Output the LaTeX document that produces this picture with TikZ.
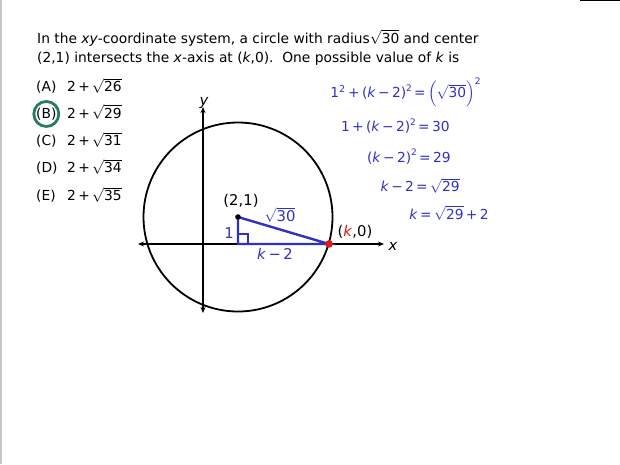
\documentclass[tikz,border=0pt]{standalone}
\usepackage{exscale}
\usepackage{fontspec}
\setmainfont{DejaVu Sans}
\usetikzlibrary{arrows.meta}
\definecolor{eqblue}{RGB}{48,48,200}
\definecolor{ansgreen}{RGB}{40,125,95}
\definecolor{ptred}{RGB}{228,25,25}
\newcommand\rt[1]{$\sqrt{\hbox{#1}}$}
\newcommand\vk{\textit{k}}
\newcommand\mn{\,−\,}
\newcommand\sqr{\raisebox{0.45em}{\fontsize{9}{9}\selectfont 2}}
\tikzset{
  txt/.style={anchor=base west, inner sep=0pt},
  eq/.style={anchor=base, inner sep=0pt, text=eqblue},
  lbl/.style={inner sep=0pt, font=\fontsize{14.8}{17}\selectfont},
  axis/.style={line width=1.3pt, {Stealth[length=6pt,width=5pt]}-{Stealth[length=6pt,width=5pt]}},
  tri/.style={eqblue, line width=2.4pt, line join=miter},
}
\begin{document}
\begin{tikzpicture}[x=1pt,y=-1pt, font=\fontsize{13.8}{16}\selectfont]
\useasboundingbox (0,0) rectangle (620,464);
\fill[gray!45] (0,0) rectangle (2,464);
\draw[line width=1.5pt] (580,0.5) -- (620,0.5);

% question
\node[txt] (q1) at (37,43) {In the \textit{xy}-coordinate system, a circle with radius\rt{30} and center};
\node[txt] (q2) at (37,62) {(2,1) intersects the \textit{x}-axis at (\vk,0).\ \ One possible value of \vk\ is};

% answers
\foreach \L/\n/\y in {A/26/91.5, B/29/118, C/31/145.5, D/34/172.5, E/35/200.5}{
  \node[txt] (lab\L) at (36,\y) {(\L)};
  \node[txt] (val\L) at (67,\y) {2\,+\,\rt{\n}};
}
\draw[ansgreen, line width=2.8pt] ([yshift=-0.3pt]labB.center) circle (12.5);

% diagram
\coordinate (P) at (238,217);
\coordinate (F) at (238,244);
\coordinate (K) at (329,244);
\coordinate (xl) at (138,244);
\coordinate (xr) at (384,244);
\coordinate (yt) at (203,107);
\coordinate (yb) at (203,313);
\draw[line width=1.8pt] (P) circle (94.5);
\draw[axis] (xl) -- (xr);
\draw[axis] (yb) -- (yt);
\node[lbl] (xlab) at (393,246) {\textit{x}};
\node[lbl] (ylab) at (204,103) {\textit{y}};
\draw[tri] (P) -- (F) -- (K) -- cycle;
\draw[eqblue, line width=1.5pt] (238,234) -- (248,234) -- (248,244);
\fill (P) circle (2.8);
\fill[ptred] (K) circle (3.8);
\node[lbl] (c21) at (241,201) {(2,1)};
\node[lbl, text=eqblue] (hyp) at (280,215) {\rt{30}};
\node[lbl, text=eqblue] (one) at (229,233) {1};
\node[lbl, text=eqblue] (base) at (275,254) {\vk\mn 2};
\node[lbl] (k0) at (355,232) {(\textcolor{ptred}{\vk},0)};

% solution
\node[eq] (e1) at (420,97.5) {\llap{1\textsuperscript{2}\,+\,(\vk\mn 2)\sqr\,}=\rlap{\,$\left(\sqrt{\hbox{30}}\right)^{\hbox{\fontsize{9}{9}\selectfont 2}}$}};
\node[eq] (e2) at (424,131.5) {\llap{1\,+\,(\vk\mn 2)\sqr\,}=\rlap{\,30}};
\node[eq] (e3) at (425,162) {\llap{(\vk\mn 2)\sqr\,}=\rlap{\,29}};
\node[eq] (e4) at (422,191.5) {\llap{\vk\mn 2\,}=\rlap{\,\rt{29}}};
\node[eq] (e5) at (426,219) {\llap{\vk\,}=\rlap{\,\rt{29}\,+\,2}};
\end{tikzpicture}
\end{document}
